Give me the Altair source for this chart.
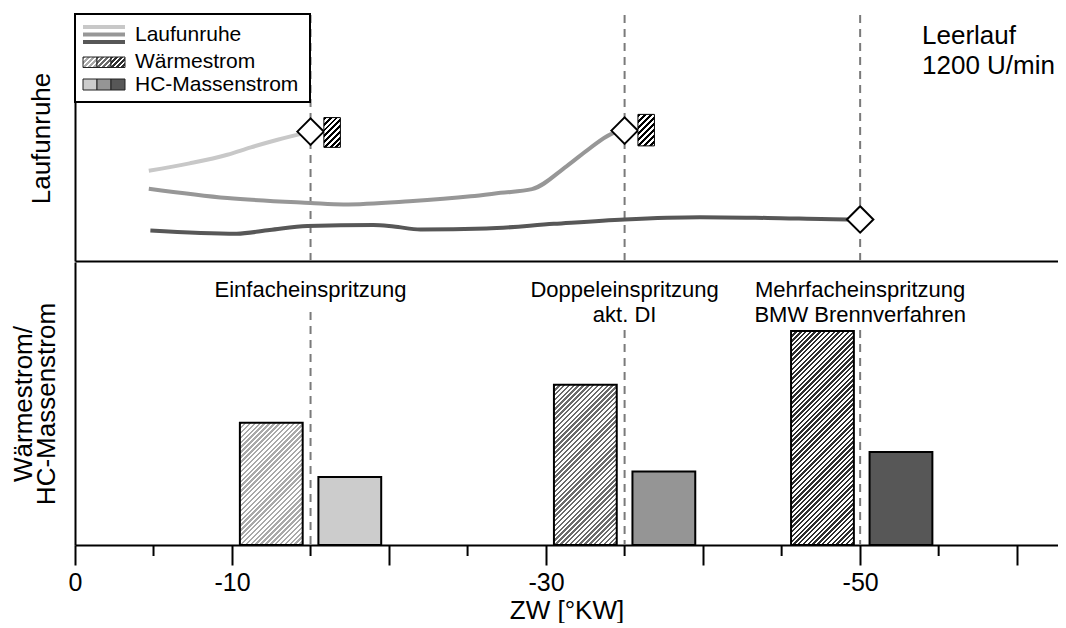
import altair as alt
import pandas as pd
import numpy as np

# ---------------- data ----------------
# x axis (ZW in °KW)
x_ticks_major = [0, -10, -20, -30, -40, -50, -60]
x_ticks_labelled = [0, -10, -30, -50]
x_ticks_minor = [-5, -15, -25, -35, -45, -55]

# Laufunruhe curves (top panel, arbitrary units 0..100)
series_names = ["Einfacheinspritzung", "Doppeleinspritzung", "Mehrfacheinspritzung"]
lr_einfach_x = [-4.7, -7.3, -9.7, -11.2, -12.9, -15.0]
lr_einfach_y = [36.7, 39.7, 43.2, 46.2, 49.3, 52.6]
lr_doppel_x = [-4.7, -9.7, -15.0, -17.1, -21.3, -25.2, -27.1, -29.1, -31.3, -32.8, -34.1, -35.0]
lr_doppel_y = [29.4, 25.6, 23.6, 23.0, 24.3, 26.3, 27.7, 29.2, 38.5, 45.9, 51.5, 53.0]
lr_mehrfach_x = [-4.8, -10.3, -12.4, -14.8, -19.0, -20.3, -22.0, -26.2, -30.5, -35.0, -39.8, -44.1, -49.2, -50.0]
lr_mehrfach_y = [12.4, 11.1, 12.6, 14.2, 14.6, 14.0, 12.8, 13.2, 15.1, 16.9, 17.8, 17.5, 16.9, 16.9]

# end points (diamonds)
end_x = [-15.0, -35.0, -50.0]
end_y = [52.6, 53.0, 16.9]

# Wärmestrom markers in the top panel
wm_x1 = [-15.85, -35.85]
wm_x2 = [-16.9, -36.9]
wm_y1 = [46.2, 46.8]
wm_y2 = [58.3, 59.6]

# injection strategies (bottom panel)
inj_x = [-15, -35, -50]
inj_labels = ["Einfacheinspritzung", "Doppeleinspritzung\nakt. DI", "Mehrfacheinspritzung\nBMW Brennverfahren"]

# bars (bottom panel, arbitrary units 0..100)
w_x1 = [-10.5, -30.5, -45.6]
w_x2 = [-14.5, -34.5, -49.6]
w_val = [43.2, 56.6, 75.6]
hc_x1 = [-15.5, -35.5, -50.6]
hc_x2 = [-19.5, -39.5, -54.6]
hc_val = [24.0, 26.0, 32.9]

legend_labels = ["Laufunruhe", "Wärmestrom", "HC-Massenstrom"]
note_text = "Leerlauf\n1200 U/min"

# ---------------- styles ----------------
FONT = "Liberation Sans"
W = 983
H1 = 246
H2 = 283
X_END = -62.6
PX_PER_X = W / abs(X_END)
line_colors = ["#c8c8c8", "#979797", "#575757"]
hc_colors = ["#cccccc", "#959595", "#575757"]
hatch_colors = ["#a9a9a9", "#6a6a6a", "#2e2e2e"]
dash_color = "#7a7a7a"


def hatch(w, h, color, bg="#ffffff", pitch=3.5, frac=0.5):
    r = h / w
    gx = (1 + r) / (1 + r * r)
    gy = r * gx
    n = max(1, int(round((w + h) / np.sqrt(2) / pitch)))
    stops = []
    for k in range(n):
        a = k / n
        b = (k + frac) / n
        c = (k + 1) / n
        stops += [
            alt.GradientStop(offset=a, color=color),
            alt.GradientStop(offset=b, color=color),
            alt.GradientStop(offset=b, color=bg),
            alt.GradientStop(offset=c, color=bg),
        ]
    return alt.LinearGradient(gradient="linear", stops=stops, x1=0, y1=0, x2=gx, y2=gy)


xs = alt.Scale(domain=[0, X_END], nice=False, zero=False)
yts = alt.Scale(domain=[0, 100], nice=False, zero=False)
ybs = alt.Scale(domain=[0, 100], nice=False, zero=False)

ax_top_x = alt.Axis(domain=True, domainColor="black", domainWidth=2, ticks=False,
                    labels=False, grid=False, title=None)
ax_top_y = alt.Axis(domain=True, domainColor="black", domainWidth=2, ticks=False,
                    labels=False, grid=False, title="Laufunruhe", titleFontSize=26,
                    titleFont=FONT, titleFontWeight="normal", titleColor="black",
                    titlePadding=21)
label_expr = ("indexof([" + ",".join(str(v) for v in x_ticks_labelled) + "], datum.value) >= 0 ? "
              "(datum.value == 0 ? '0' : '-' + abs(datum.value)) : ''")
ax_bot_x = alt.Axis(values=x_ticks_major, domain=True, domainColor="black", domainWidth=2,
                    ticks=True, tickColor="black", tickWidth=2, tickSize=20,
                    labels=True, labelExpr=label_expr, labelFontSize=25, labelFont=FONT,
                    labelColor="black", labelPadding=5, labelFlush=False, labelOverlap=False,
                    grid=False, title="ZW [°KW]", titleFontSize=26, titleFont=FONT,
                    titleFontWeight="normal", titleColor="black", titlePadding=2)
ax_bot_y = alt.Axis(domain=True, domainColor="black", domainWidth=2, ticks=False,
                    labels=False, grid=False, title=["Wärmestrom/", "HC-Massenstrom"],
                    titleFontSize=26, titleFont=FONT, titleFontWeight="normal",
                    titleColor="black", titlePadding=16, titleLineHeight=23)


def XT(f):
    return alt.X(f, type="quantitative", scale=xs, axis=ax_top_x)


def YT(f):
    return alt.Y(f, type="quantitative", scale=yts, axis=ax_top_y)


def XB(f):
    return alt.X(f, type="quantitative", scale=xs, axis=ax_bot_x)


def YB(f):
    return alt.Y(f, type="quantitative", scale=ybs, axis=ax_bot_y)


one = pd.DataFrame({"k": [0]})

# ---------------- top panel ----------------
rows = []
for name, sx, sy in zip(series_names, [lr_einfach_x, lr_doppel_x, lr_mehrfach_x],
                        [lr_einfach_y, lr_doppel_y, lr_mehrfach_y]):
    for i, (a, b) in enumerate(zip(sx, sy)):
        rows.append({"x": a, "y": b, "serie": name, "ord": i})
df_lines = pd.DataFrame(rows)
df_end = pd.DataFrame({"x": end_x, "y": end_y})
df_inj = pd.DataFrame({"x": inj_x, "label": inj_labels,
                       "nlines": [s.count("\n") + 1 for s in inj_labels]})

top_layers = []
top_layers.append(
    alt.Chart(df_inj).mark_rule(color=dash_color, strokeWidth=2, strokeDash=[8, 6]).encode(
        x=XT("x"), y=alt.value(0), y2=alt.value(H1))
)
top_layers.append(
    alt.Chart(df_lines).mark_line(strokeWidth=4, interpolate="monotone").encode(
        x=XT("x"), y=YT("y"), order="ord:Q",
        color=alt.Color("serie:N", scale=alt.Scale(domain=series_names, range=line_colors), legend=None))
)
# legend box
top_layers.append(
    alt.Chart(one).mark_rect(fill="white", stroke="black", strokeWidth=2).encode(
        x=alt.value(0), x2=alt.value(235), y=alt.value(-1), y2=alt.value(87))
)
for i, c in enumerate(line_colors):
    top_layers.append(
        alt.Chart(one).mark_rule(color=c, strokeWidth=4).encode(
            x=alt.value(8), x2=alt.value(50), y=alt.value(12 + 7.5 * i))
    )
sq_x = [8, 22, 36, 50]
for i in range(3):
    top_layers.append(
        alt.Chart(one).mark_rect(fill=hatch(14, 10.5, hatch_colors[i], pitch=3.6),
                                 stroke="#222222", strokeWidth=1).encode(
            x=alt.value(sq_x[i]), x2=alt.value(sq_x[i + 1]), y=alt.value(42), y2=alt.value(52.5))
    )
    top_layers.append(
        alt.Chart(one).mark_rect(fill=hc_colors[i], stroke="#222222", strokeWidth=1).encode(
            x=alt.value(sq_x[i]), x2=alt.value(sq_x[i + 1]), y=alt.value(64), y2=alt.value(75))
    )
for i, (lab, yy) in enumerate(zip(legend_labels, [20, 47, 70])):
    top_layers.append(
        alt.Chart(one).mark_text(text=lab, align="left", baseline="middle", fontSize=21,
                                 font=FONT, color="black").encode(
            x=alt.value(60), y=alt.value(yy))
    )
# diamonds
top_layers.append(
    alt.Chart(df_end).mark_point(shape="diamond", size=700, fill="white", stroke="black",
                                 strokeWidth=2, opacity=1, fillOpacity=1).encode(
        x=XT("x"), y=YT("y"))
)
# Wärmestrom hatch markers
for i in range(len(wm_x1)):
    dfi = pd.DataFrame({"x1": [wm_x1[i]], "x2": [wm_x2[i]], "y1": [wm_y1[i]], "y2": [wm_y2[i]]})
    w_px = abs(wm_x2[i] - wm_x1[i]) * PX_PER_X
    h_px = (wm_y2[i] - wm_y1[i]) * H1 / 100
    top_layers.append(
        alt.Chart(dfi).mark_rect(fill=hatch(w_px, h_px, "#000000", pitch=4.2, frac=0.5),
                                 stroke="#000000", strokeWidth=1).encode(
            x=XT("x1"), x2="x2", y=YT("y1"), y2="y2")
    )
top_layers.append(
    alt.Chart(one).mark_text(text=note_text, lineBreak="\n", lineHeight=30, align="left",
                             baseline="middle", fontSize=26, font=FONT, color="black").encode(
        x=alt.value(847), y=alt.value(21))
)
top = alt.layer(*top_layers).properties(width=W, height=H1)

# ---------------- bottom panel ----------------
bot_layers = []
bot_layers.append(
    alt.Chart(df_inj).transform_filter(alt.datum.nlines == 1).mark_rule(
        color=dash_color, strokeWidth=2, strokeDash=[8, 6]).encode(
        x=XB("x"), y=alt.value(50), y2=alt.value(H2))
)
bot_layers.append(
    alt.Chart(df_inj).transform_filter(alt.datum.nlines > 1).mark_rule(
        color=dash_color, strokeWidth=2, strokeDash=[8, 6]).encode(
        x=XB("x"), y=alt.value(68), y2=alt.value(H2))
)
for i in range(3):
    dfw = pd.DataFrame({"x1": [w_x1[i]], "x2": [w_x2[i]], "v": [w_val[i]], "z": [0]})
    w_px = abs(w_x2[i] - w_x1[i]) * PX_PER_X
    h_px = w_val[i] * H2 / 100
    bot_layers.append(
        alt.Chart(dfw).mark_bar(fill=hatch(w_px, h_px, hatch_colors[i], pitch=3.4, frac=0.5),
                                stroke="black", strokeWidth=2).encode(
            x=XB("x1"), x2="x2", y=YB("v"), y2="z")
    )
df_hc = pd.DataFrame({"x1": hc_x1, "x2": hc_x2, "v": hc_val, "z": [0, 0, 0], "idx": [0, 1, 2]})
bot_layers.append(
    alt.Chart(df_hc).mark_bar(stroke="black", strokeWidth=2).encode(
        x=XB("x1"), x2="x2", y=YB("v"), y2="z",
        fill=alt.Fill("idx:N", scale=alt.Scale(domain=[0, 1, 2], range=hc_colors), legend=None))
)
bot_layers.append(
    alt.Chart(df_inj).mark_text(lineBreak="\n", lineHeight=25, align="center", baseline="top",
                                fontSize=22, font=FONT, color="black").encode(
        x=XB("x"), y=alt.value(18), text="label:N")
)
df_minor = pd.DataFrame({"x": x_ticks_minor})
bot_layers.append(
    alt.Chart(df_minor).mark_rule(color="black", strokeWidth=2).encode(
        x=XB("x"), y=alt.value(H2), y2=alt.value(H2 + 11))
)
bottom = alt.layer(*bot_layers).properties(width=W, height=H2)

chart = alt.vconcat(top, bottom, spacing=0).properties(
    padding={"left": 2, "top": 5, "right": 0, "bottom": 0}
).configure(font=FONT).configure_view(stroke=None)

chart.save("out.html", embed_options={"renderer": "svg", "actions": False})
